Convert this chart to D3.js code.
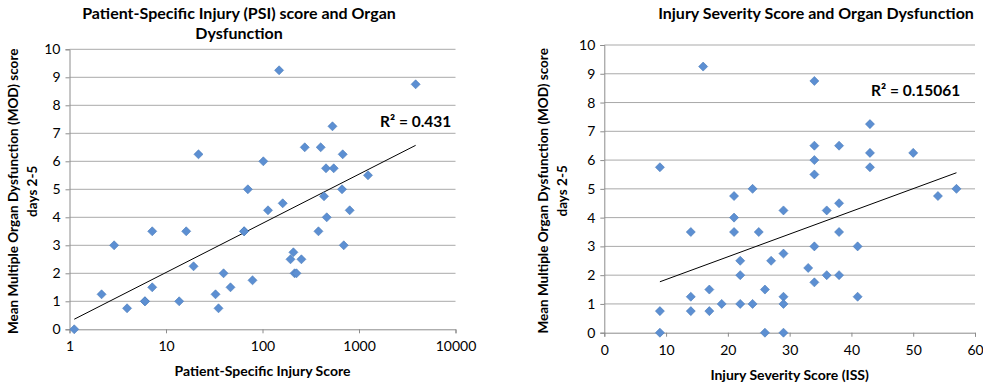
<!DOCTYPE html>
<html><head><meta charset="utf-8">
<script src="https://cdn.jsdelivr.net/npm/d3@7"></script>
<style>
body{margin:0;background:#fff;}
svg text{font-family:Lato,"Open Sans",sans-serif;fill:#000;}
</style></head>
<body><svg id="c" width="983" height="384"></svg>
<script>
// ---- Data ----
const psiX = [1.12, 2.15, 2.9, 3.95, 6.05, 6.05, 7.2, 7.2, 13.7, 16.2, 19.3, 21.7, 32.6, 35, 39.5, 46.6, 64.5, 64.5, 70.5, 78.8, 102, 148.6, 3864, 114, 162, 274, 401, 531, 678, 455, 547, 1239, 667, 434, 801, 463, 380, 695, 209, 195, 253, 215, 225];
const psiY = [0, 1.25, 3, 0.75, 1, 1, 1.5, 3.5, 1, 3.5, 2.25, 6.25, 1.25, 0.75, 2, 1.5, 3.5, 3.5, 5, 1.75, 6, 9.25, 8.75, 4.25, 4.5, 6.5, 6.5, 7.25, 6.25, 5.75, 5.75, 5.5, 5, 4.75, 4.25, 4, 3.5, 3, 2.75, 2.5, 2.5, 2, 2];
const psiTrendX = [1.12, 3864];
const psiTrendY = [0.36, 6.57];
const psiTicks = [1, 10, 100, 1000, 10000];

const issX = [16, 9, 9, 9, 14, 14, 14, 17, 17, 19, 21, 21, 21, 22, 22, 22, 24, 24, 25, 26, 26, 27, 29, 29, 29, 29, 29, 34, 34, 34, 34, 34, 34, 33, 36, 36, 38, 38, 38, 38, 41, 41, 43, 43, 43, 50, 54, 57];
const issY = [9.25, 5.75, 0.75, 0, 3.5, 1.25, 0.75, 1.5, 0.75, 1, 4.75, 4, 3.5, 2.5, 2, 1, 5, 1, 3.5, 1.5, 0, 2.5, 4.25, 2.75, 1.25, 1, 0, 8.75, 6.5, 6, 5.5, 3, 1.75, 2.25, 4.25, 2, 6.5, 4.5, 3.5, 2, 3, 1.25, 7.25, 6.25, 5.75, 6.25, 4.75, 5];
const issTrendX = [9, 57];
const issTrendY = [1.77, 5.56];
const issTicks = [0, 10, 20, 30, 40, 50, 60];

const yTicks = [0,1,2,3,4,5,6,7,8,9,10];
const yTitle1 = "Mean Multiple Organ Dysfunction (MOD) score";
const yTitle2 = "days 2-5";
const leftTitle = ["Patient-Specific Injury (PSI) score and Organ", "Dysfunction"];
const rightTitle = ["Injury Severity Score and Organ Dysfunction"];
const leftXTitle = "Patient-Specific Injury Score";
const rightXTitle = "Injury Severity Score (ISS)";
const leftR2 = "R\u00B2 = 0.431";
const rightR2 = "R\u00B2 = 0.15061";

const svg = d3.select("#c");
const grid = "#a9a9a9", axisC = "#8c8c8c", dotFill = "#5c8fd2", dotStroke = "#4a7ab8";

function panel(o){
  const g = svg.append("g");
  const x = o.x, y = o.y;
  const [x0, x1] = x.range(), [y0, y1] = y.range();
  g.selectAll(".gl").data(yTicks.filter(d=>d>0)).join("line")
    .attr("x1", x0).attr("x2", x1).attr("y1", d=>y(d)).attr("y2", d=>y(d))
    .attr("stroke", grid).attr("stroke-width", 1);
  const ya = g.append("g").attr("transform", `translate(${x0},0)`)
    .call(d3.axisLeft(y).tickValues(yTicks).tickFormat(d3.format("d")).tickSize(4).tickPadding(5));
  const xa = g.append("g").attr("transform", `translate(0,${y0})`)
    .call(d3.axisBottom(x).tickValues(o.xTicks).tickFormat(d3.format("d")).tickSize(4).tickPadding(8));
  [ya, xa].forEach(a=>{
    a.selectAll("path,line").attr("stroke", axisC);
    a.selectAll("text").attr("font-size", 14).attr("font-family", "Lato, sans-serif");
  });
  const tl = o.tx.map((v,i)=>[x(v), y(o.ty[i])]);
  g.append("path").attr("d", d3.line()(tl)).attr("stroke","#000").attr("stroke-width",1).attr("fill","none");
  const sym = d3.symbol().type(d3.symbolDiamond2).size(52);
  g.selectAll(".pt").data(o.px.map((v,i)=>[v, o.py[i]])).join("path")
    .attr("d", sym).attr("transform", d=>`translate(${x(d[0])},${y(d[1])})`)
    .attr("fill", dotFill).attr("stroke", dotStroke).attr("stroke-width", 0.6);
  o.title.forEach((t,i)=>{
    g.append("text").attr("x", o.titleX).attr("y", o.titleY + i*20).attr("text-anchor","middle")
      .attr("font-size", 16).attr("font-weight","bold").text(t);
  });
  g.append("text").attr("x", (x0+x1)/2 + o.xtDx).attr("y", o.xtY).attr("text-anchor","middle")
    .attr("font-size", 14).attr("font-weight","bold").text(o.xTitle);
  const yc = (y0+y1)/2 + 2;
  g.append("text").attr("transform", `translate(${o.ytX},${yc}) rotate(-90)`).attr("text-anchor","middle")
    .attr("font-size", 13.5).attr("font-weight","bold").text(yTitle1);
  g.append("text").attr("transform", `translate(${o.ytX+19},${yc}) rotate(-90)`).attr("text-anchor","middle")
    .attr("font-size", 13.5).attr("font-weight","bold").text(yTitle2);
  g.append("text").attr("x", o.r2x).attr("y", o.r2y).attr("font-size", 15.5).attr("font-weight","bold").text(o.r2);
}

panel({
  x: d3.scaleLog().domain([1,10000]).range([69.5, 455.5]),
  y: d3.scaleLinear().domain([0,10]).range([329.3, 49.3]),
  xTicks: psiTicks, px: psiX, py: psiY, tx: psiTrendX, ty: psiTrendY,
  title: leftTitle, titleX: 239, titleY: 19, xTitle: leftXTitle, xtDx: 0, xtY: 376,
  ytX: 17.5, r2: leftR2, r2x: 380, r2y: 127
});
panel({
  x: d3.scaleLinear().domain([0,60]).range([604.3, 975]),
  y: d3.scaleLinear().domain([0,10]).range([332.7, 45]),
  xTicks: issTicks, px: issX, py: issY, tx: issTrendX, ty: issTrendY,
  title: rightTitle, titleX: 816, titleY: 19, xTitle: rightXTitle, xtDx: 0, xtY: 380,
  ytX: 548, r2: rightR2, r2x: 871, r2y: 96
});
</script></body></html>
